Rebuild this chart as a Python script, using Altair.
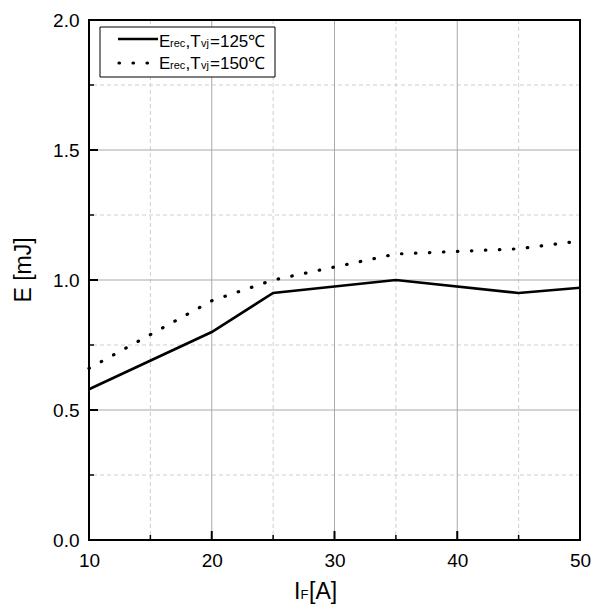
import altair as alt
import pandas as pd

# ---- data ----
if_125 = [10, 20, 25, 35, 45, 50]
e_125 = [0.58, 0.80, 0.95, 1.00, 0.95, 0.97]
if_150 = [10, 15, 20, 25, 30, 35, 40, 45, 50]
e_150 = [0.66, 0.79, 0.92, 1.00, 1.05, 1.10, 1.11, 1.12, 1.15]

x_major = [10, 20, 30, 40, 50]
x_minor = [15, 25, 35, 45]
y_major = [0.0, 0.5, 1.0, 1.5, 2.0]
y_minor = [0.25, 0.75, 1.25, 1.75]

# ---- layout ----
W, H = 491, 520
FONT = "Arial, 'Liberation Sans', sans-serif"

df125 = pd.DataFrame({"x": if_125, "y": e_125})
df150 = pd.DataFrame({"x": if_150, "y": e_150})
dxmaj = pd.DataFrame({"x": x_major})
dxmin = pd.DataFrame({"x": x_minor})
dymaj = pd.DataFrame({"y": y_major})
dymin = pd.DataFrame({"y": y_minor})
one = pd.DataFrame({"a": [0]})

xs = alt.Scale(domain=[10, 50], nice=False, zero=False)
ys = alt.Scale(domain=[0, 2], nice=False, zero=False)

xaxis = alt.Axis(values=x_major, format="d", ticks=False, grid=False, domain=False,
                 labelFontSize=19, labelColor="black", labelPadding=11, title=None,
                 labelFont=FONT, labelFlush=False, labelOverlap=False)
yaxis = alt.Axis(values=y_major, format=".1f", ticks=False, grid=False, domain=False,
                 labelFontSize=19, labelColor="black", labelPadding=10, title=None,
                 labelFont=FONT, labelFlush=False, labelOverlap=False)

grid_x_minor = alt.Chart(dxmin).mark_rule(color="#cfcfcf", strokeWidth=1, strokeDash=[4, 3]).encode(
    x=alt.X("x:Q", scale=xs, axis=xaxis))
grid_y_minor = alt.Chart(dymin).mark_rule(color="#cfcfcf", strokeWidth=1, strokeDash=[4, 3]).encode(
    y=alt.Y("y:Q", scale=ys, axis=yaxis))
grid_x_major = alt.Chart(dxmaj).mark_rule(color="#a8a8a8", strokeWidth=1).encode(
    x=alt.X("x:Q", scale=xs))
grid_y_major = alt.Chart(dymaj).mark_rule(color="#a8a8a8", strokeWidth=1).encode(
    y=alt.Y("y:Q", scale=ys))

tick_x_major = alt.Chart(dxmaj).mark_rule(color="black", strokeWidth=2).encode(
    x=alt.X("x:Q", scale=xs), y=alt.value(H), y2=alt.value(H - 9))
tick_x_minor = alt.Chart(dxmin).mark_rule(color="black", strokeWidth=1.5).encode(
    x=alt.X("x:Q", scale=xs), y=alt.value(H), y2=alt.value(H - 5))
tick_y_major = alt.Chart(dymaj).mark_rule(color="black", strokeWidth=2).encode(
    y=alt.Y("y:Q", scale=ys), x=alt.value(0), x2=alt.value(9))
tick_y_minor = alt.Chart(dymin).mark_rule(color="black", strokeWidth=1.5).encode(
    y=alt.Y("y:Q", scale=ys), x=alt.value(0), x2=alt.value(5))

line125 = alt.Chart(df125).mark_line(color="black", strokeWidth=2.6).encode(
    x=alt.X("x:Q", scale=xs), y=alt.Y("y:Q", scale=ys))
line150 = alt.Chart(df150).mark_line(color="black", strokeWidth=3.2, strokeDash=[0.5, 13.5],
                                     strokeCap="round").encode(
    x=alt.X("x:Q", scale=xs), y=alt.Y("y:Q", scale=ys))

frame = alt.Chart(one).mark_rect(filled=False, stroke="black", strokeWidth=2).encode(
    x=alt.value(0), x2=alt.value(W), y=alt.value(0), y2=alt.value(H))

# legend (manual)
leg_box = alt.Chart(one).mark_rect(fill="white", stroke="black", strokeWidth=1).encode(
    x=alt.value(11), x2=alt.value(186), y=alt.value(7), y2=alt.value(57))
leg_solid = alt.Chart(one).mark_rule(color="black", strokeWidth=2.6).encode(
    x=alt.value(29), x2=alt.value(69), y=alt.value(19))
leg_dot = alt.Chart(one).mark_rule(color="black", strokeWidth=3.2, strokeDash=[0.5, 13.5],
                                   strokeCap="round").encode(
    x=alt.value(30), x2=alt.value(62), y=alt.value(43))


def txt(s, x, y, size, angle=0, align="left", baseline="alphabetic"):
    kw = dict(text=s, fontSize=size, font=FONT, color="black", align=align, baseline=baseline)
    if angle:
        kw["angle"] = angle
    return alt.Chart(one).mark_text(**kw).encode(x=alt.value(x), y=alt.value(y))


legend_texts = []
for row_y, temp in [(27, "=125℃"), (49, "=150℃")]:
    legend_texts += [
        txt("E", 70, row_y, 17),
        txt("rec", 81, row_y, 11),
        txt(",T", 96.5, row_y, 17),
        txt("vj", 112, row_y, 11),
        txt(temp, 121, row_y, 17),
    ]

ytitle = txt("E [mJ]", -65, 250, 23, angle=270, align="center", baseline="middle")
xt_I = txt("I", 205, 579, 23)
xt_F = txt("F", 211.5, 579, 13)
xt_A = txt("[A]", 220, 579, 23)

chart = alt.layer(
    grid_x_minor, grid_y_minor, grid_x_major, grid_y_major,
    line150, line125,
    tick_x_major, tick_x_minor, tick_y_major, tick_y_minor,
    leg_box, leg_solid, leg_dot, *legend_texts,
    ytitle, xt_I, xt_F, xt_A,
    frame,
).properties(
    width=W, height=H,
    padding={"left": 89, "top": 20, "right": 20, "bottom": 70},
    autosize=alt.AutoSizeParams(type="none"),
    background="white",
).configure_view(stroke=None)

chart.save("out.html", embed_options={"renderer": "svg", "actions": False})
